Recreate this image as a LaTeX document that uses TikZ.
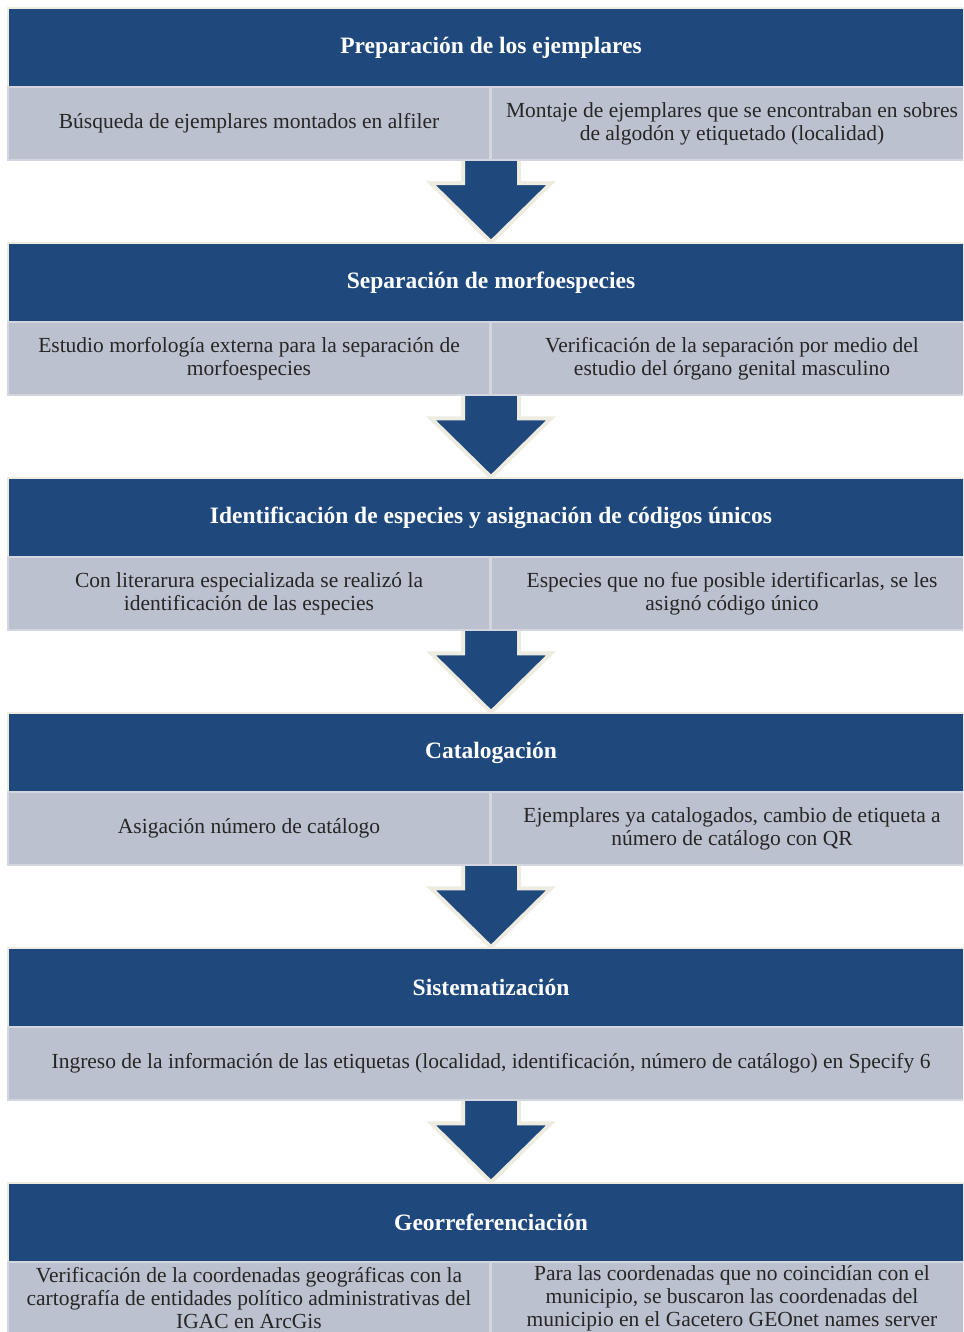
\documentclass[tikz,border=0pt]{standalone}
\usepackage{fontspec}
\setmainfont{Liberation Serif}
\usepackage{tikz}
\usetikzlibrary{backgrounds}
\definecolor{headblue}{RGB}{31,73,125}
\definecolor{cellgray}{RGB}{188,193,207}
\definecolor{celledge}{RGB}{211,214,222}
\definecolor{cream}{RGB}{238,236,225}
\definecolor{celltext}{RGB}{38,38,38}

\begin{document}
\begin{tikzpicture}[x=1pt,y=-1pt,
  head/.style={fill=headblue,draw=cream,line width=1.5pt,minimum width=966pt,minimum height=79pt,inner sep=0pt,text=white,font=\fontsize{23.5}{26}\selectfont\bfseries},
  cell/.style={fill=cellgray,draw=celledge,line width=2pt,minimum height=73pt,inner sep=0pt,align=center,text=celltext,font=\fontsize{21.5}{23}\selectfont},
  halfcell/.style={cell,minimum width=482pt},
  fullcell/.style={cell,minimum width=966pt},
  downarrow/.style={fill=headblue,draw=cream,line width=4pt,line join=miter}]

\useasboundingbox (0,0) rectangle (963,1332);
\clip (0,0) rectangle (963,1332);


\node[head] (h1) at (491,47.5) {Preparación de los ejemplares};
\node[halfcell] (a1) at (249,123.5) {Búsqueda de ejemplares montados en alfiler};
\node[halfcell] (b1) at (732,123.5) {Montaje de ejemplares que se encontraban en sobres\\de algodón y etiquetado (localidad)};

\node[head] (h2) at (491,282.5) {Separación de morfoespecies};
\node[halfcell] (a2) at (249,358.5) {Estudio morfología externa para la separación de\\morfoespecies};
\node[halfcell] (b2) at (732,358.5) {Verificación de la separación por medio del\\estudio del órgano genital masculino};

\node[head] (h3) at (491,517.5) {Identificación de especies y asignación de códigos únicos};
\node[halfcell] (a3) at (249,593.5) {Con literarura especializada se realizó la\\identificación de las especies};
\node[halfcell] (b3) at (732,593.5) {Especies que no fue posible idertificarlas, se les\\asignó código único};

\node[head] (h4) at (491,752.5) {Catalogación};
\node[halfcell] (a4) at (249,828.5) {Asigación número de catálogo};
\node[halfcell] (b4) at (732,828.5) {Ejemplares ya catalogados, cambio de etiqueta a\\número de catálogo con QR};

\node[head] (h5) at (491,987.5) {Sistematización};
\node[fullcell] (a5) at (491,1063.5) {Ingreso de la información de las etiquetas (localidad, identificación, número de catálogo) en Specify 6};

\node[head] (h6) at (491,1222.5) {Georreferenciación};
\node[halfcell] (a6) at (249,1298.5) {Verificación de la coordenadas geográficas con la\\cartografía de entidades político administrativas del\\IGAC en ArcGis};
\node[halfcell] (b6) at (732,1298.5) {Para las coordenadas que no coincidían con el\\municipio, se buscaron las coordenadas del\\municipio en el Gacetero GEOnet names server};


\begin{scope}[on background layer]
\foreach \i/\j in {1/2,2/3,3/4,4/5,5/6}
   \draw[downarrow] ([xshift=-28pt,yshift=4pt]h\j.north |- a\i.south)
      -- ([xshift=-28pt,yshift=59pt]h\j.north) -- ([xshift=-60pt,yshift=59pt]h\j.north)
      -- (h\j.north)
      -- ([xshift=60pt,yshift=59pt]h\j.north) -- ([xshift=28pt,yshift=59pt]h\j.north)
      -- ([xshift=28pt,yshift=4pt]h\j.north |- a\i.south);
\end{scope}

\end{tikzpicture}
\end{document}
